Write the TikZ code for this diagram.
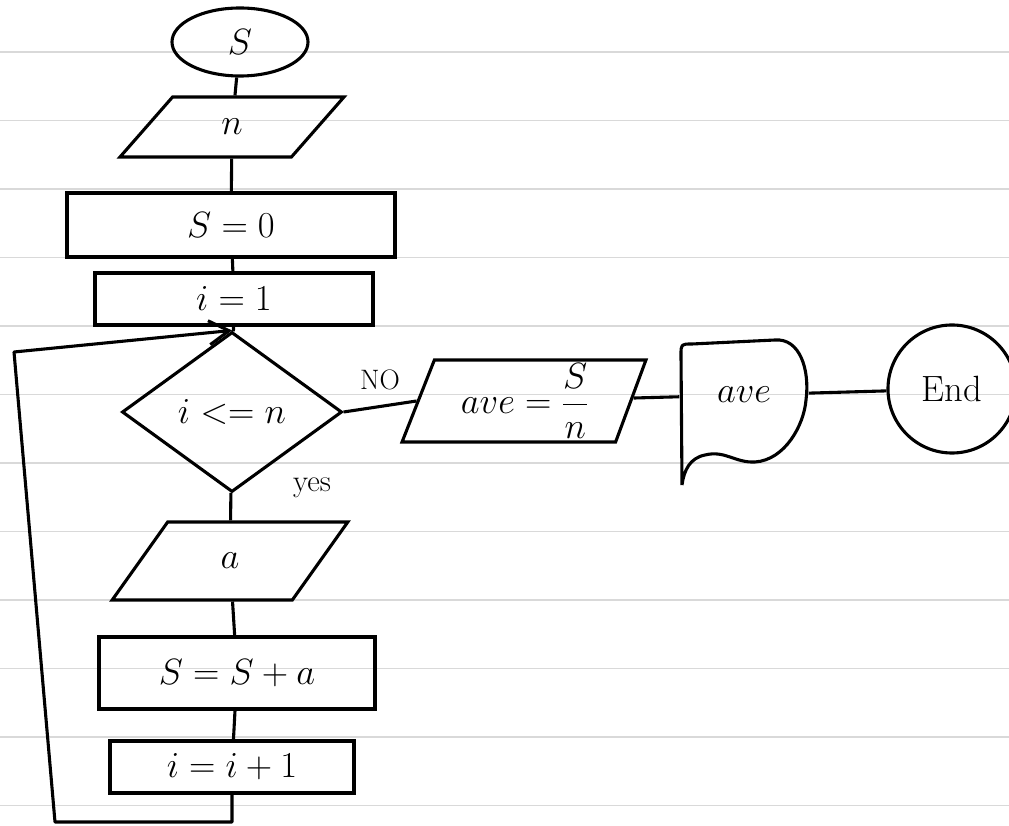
\RequirePackage{fix-cm}
\documentclass[tikz,border=0pt]{standalone}
\usetikzlibrary{shapes.geometric,arrows.meta}
\begin{document}
\begin{tikzpicture}[x=0.025cm,y=-0.025cm,
    box/.style={draw,line width=2.2pt,inner sep=0pt,font=\fontsize{26}{30}\selectfont},
    io/.style={box,trapezium,trapezium stretches=true},
    flow/.style={line width=2.2pt,line join=round},
    lbl/.style={font=\fontsize{20}{24}\selectfont}]
    \useasboundingbox[fill=white] (0,0) rectangle (1009,826);
    % ruled paper
    \foreach \y in {52,120.5,...,806}
        \draw[gray!30,line width=1pt] (0,\y) -- (1009,\y);

    \node[box,ellipse,minimum width=3.4cm,minimum height=1.7cm] (start) at (240,42) {$S$};
    \node[io,trapezium left angle=59,trapezium right angle=121,minimum width=5.6cm,minimum height=1.5cm] (inn) at (232,127) {$n$};
    \node[box,minimum width=8.2cm,minimum height=1.6cm] (s0) at (231,225) {$S=0$};
    \node[box,minimum width=6.95cm,minimum height=1.3cm] (i1) at (234,299) {$i=1$};
    \node[box,diamond,minimum width=5.5cm,minimum height=4cm] (dec) at (232,412) {$i<=n$};
    \node[io,trapezium left angle=62,trapezium right angle=118,minimum width=5.9cm,minimum height=1.95cm] (ina) at (230,561) {$a$};
    \node[box,minimum width=6.9cm,minimum height=1.8cm] (ssa) at (237,673) {$S=S+a$};
    \node[box,minimum width=6.1cm,minimum height=1.3cm] (ip1) at (232,767) {$i=i+1$};

    \node[io,trapezium left angle=73,trapezium right angle=106,minimum width=6.1cm,minimum height=2.05cm] (avg) at (525,401) {$ave=\displaystyle\frac{S}{n}$};
    \node[box,draw=none,minimum width=3.15cm,minimum height=2.5cm] (out) at (744,395) {$ave$};
    % output sheet
    \draw[flow] (682,485) -- (681,355) .. controls (681,344) .. (692,344) -- (775,340)
        .. controls (800,338) and (810,370) .. (806,400)
        .. controls (804,425) and (785,460) .. (755,462)
        .. controls (735,463) and (725,450) .. (705,455)
        .. controls (690,458) and (684,470) .. (682,485);
    \node[box,circle,minimum size=3.2cm] (end) at (952,389) {End};

    \node[lbl,font=\fontsize{22}{26}\selectfont] (yes) at (312,488) {yes};

    \path[flow] (start) edge (inn);
    \path[flow] (inn) edge (s0);
    \path[flow] (s0) edge (i1);
    \path[flow] (i1) edge (dec);
    \path[flow] (dec) edge (ina);
    \path[flow] (ina) edge (ssa);
    \path[flow] (ssa) edge (ip1);
    \path[flow] (dec.east) edge node[lbl,above=7pt] {NO} (avg.west);
    \path[flow] (avg) edge (out);
    \path[flow] (out) edge (end);

    \coordinate (lb) at (55,822);
    \coordinate (lt) at (14,352);
    \draw[flow,-{Straight Barb[length=5mm,width=6mm]}] (ip1.south) -- (ip1.south |- lb) -- (lb) -- (lt) -- (dec.north);
\end{tikzpicture}
\end{document}
